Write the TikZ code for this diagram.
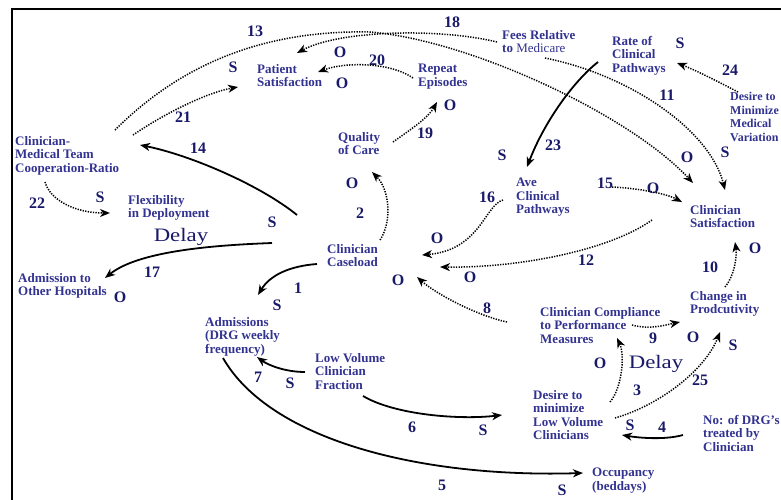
\documentclass[tikz,border=0pt]{standalone}
\usepackage{fontspec}
\setmainfont{Liberation Serif}
\usetikzlibrary{arrows.meta}
\definecolor{textblue}{RGB}{50,50,145}
\definecolor{labblue}{RGB}{25,25,105}
\begin{document}
\begin{tikzpicture}[x=1pt,y=-1pt,
  txt/.style={anchor=north west,inner sep=0pt,align=left,text=textblue,font=\fontsize{13}{13.5}\selectfont\bfseries},
  lab/.style={inner sep=0pt,text=labblue,font=\fontsize{16}{16}\selectfont\bfseries},
  dly/.style={inner sep=0pt,text=labblue,font=\fontsize{19}{19}\selectfont},
  tip/.style={-{Stealth[length=10pt,width=8pt,inset=3pt]}},
  sol/.style={tip,line width=1.8pt},
  dotl/.style={tip,line width=1.5pt,dash pattern=on 1.3pt off 1.3pt}]
\useasboundingbox (0,0) rectangle (781,500);
\clip (0,0) rectangle (781,500);
\draw[line width=2pt] (12,500) -- (12,9) -- (781,9);

% text nodes
\node[txt] (pat) at (257,64) {Patient\\Satisfaction};
\node[txt] (rep) at (418,64) {Repeat\\Episodes};
\node[txt] (qoc) at (338,132) {Quality\\of Care};
\node[txt] (fees) at (502,30) {Fees Relative\\to {\mdseries Medicare}};
\node[txt] (rcp) at (612,36) {Rate of\\Clinical\\Pathways};
\node[txt,font=\fontsize{12}{13.5}\selectfont\bfseries] (dmv) at (730,92) {Desire to\\Minimize\\Medical\\Variation};
\node[txt] (cmt) at (15,136) {Clinician-\\Medical Team\\Cooperation-Ratio};
\node[txt] (flex) at (128,195) {Flexibility\\in Deployment};
\node[txt] (aoh) at (18,273) {Admission to\\Other Hospitals};
\node[txt] (cas) at (327,244) {Clinician\\Caseload};
\node[txt] (acp) at (516,178) {Ave\\Clinical\\Pathways};
\node[txt] (csat) at (690,205) {Clinician\\Satisfaction};
\node[txt] (cip) at (690,291) {Change in\\Prodcutivity};
\node[txt] (ccp) at (540,307) {Clinician Compliance\\to Performance\\Measures};
\node[txt] (dlv) at (533,390) {Desire to\\minimize\\Low Volume\\Clinicians};
\node[txt] (ndrg) at (703,415) {No: of DRG's\\treated by\\Clinician};
\node[txt] (occ) at (592,468) {Occupancy\\(beddays)};
\node[txt] (lvf) at (315,353) {Low Volume\\Clinician\\Fraction};
\node[txt] (adm) at (205,317) {Admissions\\(DRG weekly\\frequency)};

\node[dly] (d1) at (181,237) {\scalebox{1.2}[1]{Delay}};
\node[dly] (d2) at (656,364) {\scalebox{1.2}[1]{Delay}};

% numbers
\node[lab] (l1) at (298,288) {1};
\node[lab] (l2) at (360,213) {2};
\node[lab] (l3) at (637,390) {3};
\node[lab] (l4) at (662,427) {4};
\node[lab] (l5) at (442,485) {5};
\node[lab] (l6) at (412,427) {6};
\node[lab] (l7) at (258,377) {7};
\node[lab] (l8) at (487,308) {8};
\node[lab] (l9) at (653,338) {9};
\node[lab] (l10) at (710,267) {10};
\node[lab] (l11) at (667,95) {11};
\node[lab] (l12) at (586,260) {12};
\node[lab] (l13) at (255,31) {13};
\node[lab] (l14) at (198,148) {14};
\node[lab] (l15) at (605,183) {15};
\node[lab] (l16) at (487,197) {16};
\node[lab] (l17) at (152,272) {17};
\node[lab] (l18) at (452,22) {18};
\node[lab] (l19) at (425,133) {19};
\node[lab] (l20) at (377,60) {20};
\node[lab] (l21) at (183,117) {21};
\node[lab] (l22) at (37,203) {22};
\node[lab] (l23) at (553,145) {23};
\node[lab] (l24) at (730,70) {24};
\node[lab] (l25) at (700,380) {25};

% polarity S
\node[lab] (s1) at (233,67) {S};
\node[lab] (s2) at (680,43) {S};
\node[lab] (s3) at (725,152) {S};
\node[lab] (s4) at (502,155) {S};
\node[lab] (s5) at (100,197) {S};
\node[lab] (s6) at (272,222) {S};
\node[lab] (s7) at (277,305) {S};
\node[lab] (s8) at (290,383) {S};
\node[lab] (s9) at (483,430) {S};
\node[lab] (s10) at (630,425) {S};
\node[lab] (s11) at (562,490) {S};
\node[lab] (s12) at (733,345) {S};
% polarity O
\node[lab] (o1) at (340,52) {O};
\node[lab] (o2) at (342,83) {O};
\node[lab] (o3) at (450,105) {O};
\node[lab] (o4) at (687,157) {O};
\node[lab] (o5) at (120,297) {O};
\node[lab] (o6) at (352,183) {O};
\node[lab] (o7) at (437,238) {O};
\node[lab] (o8) at (470,277) {O};
\node[lab] (o9) at (398,280) {O};
\node[lab] (o10) at (653,188) {O};
\node[lab] (o11) at (755,248) {O};
\node[lab] (o12) at (693,337) {O};
\node[lab] (o13) at (600,363) {O};

% connectors
\draw[sol] ([shift={(-10,20)}]cas.north west) .. controls +(-27,2) and +(12,-20) .. ([shift={(53,-22)}]adm.north west);
\draw[dotl] ([shift={(53,-4)}]cas.north west) .. controls +(12,-18) and +(18,18) .. ([shift={(34,40)}]qoc.north west);
\draw[dotl] ([shift={(77,12)}]dlv.north west) .. controls +(12,-14) and +(8,17) .. ([shift={(77,31)}]ccp.north west);
\draw[sol] ([shift={(-20,20)}]ndrg.north west) .. controls +(-18,5) and +(18,3) .. ([shift={(89,45)}]dlv.north west);
\draw[sol] ([shift={(18,41)}]adm.north west) .. controls +(47,82) and +(-163,5) .. ([shift={(-9,5)}]occ.north west);
\draw[sol] ([shift={(48,43)}]lvf.north west) .. controls +(32,19) and +(-42,5) .. ([shift={(-31,25)}]dlv.north west);
\draw[sol] ([shift={(-10,19)}]lvf.north west) .. controls +(-20,0) and +(11,8) .. ([shift={(52,40)}]adm.north west);
\draw[dotl] ([shift={(-33,15)}]ccp.north west) .. controls +(-32,-7) and +(18,16) .. ([shift={(90,33)}]cas.north west);
\draw[dotl] ([shift={(92,18)}]ccp.north west) .. controls +(18,5) and +(-15,3) .. ([shift={(-10,31)}]cip.north west);
\draw[dotl] ([shift={(35,-4)}]cip.north west) .. controls +(10,-12) and +(2,13) .. ([shift={(45,37)}]csat.north west);
\draw[dotl] ([shift={(43,28)}]fees.north west) .. controls +(85,17) and +(-15,-60) .. ([shift={(35,-15)}]csat.north west);
\draw[dotl] ([shift={(-38,15)}]csat.north west) .. controls +(-42,30) and +(80,1) .. ([shift={(113,23)}]cas.north west);
\draw[dotl] ([shift={(100,-6)}]cmt.north west) .. controls +(70,-70) and +(-100,-2) .. (370,32) .. controls +(100,8) and +(-63,-68) .. ([shift={(3,-22)}]csat.north west);
\draw[sol] ([shift={(-30,-29)}]cas.north west) .. controls +(-37,-30) and +(50,10) .. ([shift={(125,9)}]cmt.north west);
\draw[dotl] ([shift={(96,9)}]acp.north west) .. controls +(23,1) and +(-17,-9) .. ([shift={(-8,-3)}]csat.north west);
\draw[dotl] ([shift={(-13,22)}]acp.north west) .. controls +(-18,5) and +(58,-5) .. ([shift={(95,11)}]cas.north west);
\draw[sol] ([shift={(-55,-1)}]cas.north west) .. controls +(-52,2) and +(35,-28) .. ([shift={(87,5)}]aoh.north west);
\draw[dotl] ([shift={(-5,12)}]fees.north west) .. controls +(-57,-14) and +(43,-23) .. ([shift={(40,-11)}]pat.north west);
\draw[dotl] ([shift={(55,10)}]qoc.north west) .. controls +(17,-12) and +(-9,16) .. ([shift={(19,38)}]rep.north west);
\draw[dotl] ([shift={(-5,14)}]rep.north west) .. controls +(-23,-16) and +(27,-10) .. ([shift={(61,8)}]pat.north west);
\draw[dotl] ([shift={(118,-1)}]cmt.north west) .. controls +(37,-25) and +(-28,5) .. ([shift={(-19,23)}]pat.north west);
\draw[dotl] ([shift={(30,46)}]cmt.north west) .. controls +(5,18) and +(-35,0) .. ([shift={(-18,18)}]flex.north west);
\draw[sol] ([shift={(-14,26)}]rcp.north west) .. controls +(-23,18) and +(18,-47) .. ([shift={(11,-11)}]acp.north west);
\draw[dotl] ([shift={(8,0)}]dmv.north west) .. controls +(-23,-12) and +(18,7) .. ([shift={(65,27)}]rcp.north west);
\draw[dotl] ([shift={(82,28)}]dlv.north west) .. controls +(45,-13) and +(-15,38) .. ([shift={(30,41)}]cip.north west);
\end{tikzpicture}
\end{document}
